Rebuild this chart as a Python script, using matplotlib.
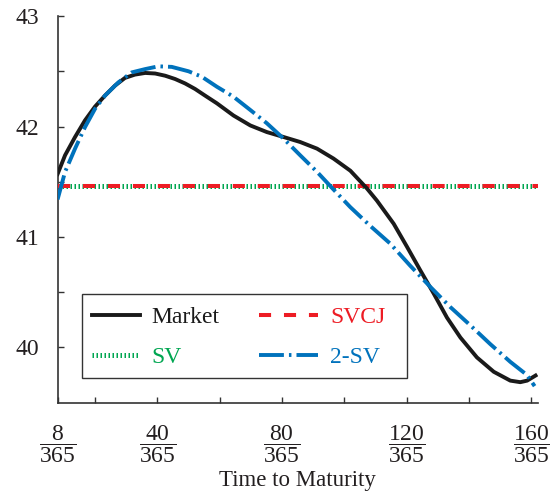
import numpy as np
import matplotlib
matplotlib.use("Agg")
import matplotlib.pyplot as plt
from matplotlib.patches import Rectangle
from matplotlib.ticker import FixedLocator, FixedFormatter

plt.rcParams["font.family"] = ["Liberation Serif", "DejaVu Serif"]
plt.rcParams["mathtext.fontset"] = "custom"
plt.rcParams["mathtext.rm"] = "Liberation Serif"
plt.rcParams["mathtext.it"] = "Liberation Serif"

# days to maturity and implied volatility curves (%)
market_days = [8, 10.4, 13.6, 16.8, 20, 23.2, 26.4, 29.6, 32.8, 36.1, 39.3, 42.5,
               45.7, 48.9, 52.1, 55.3, 59.1, 64.4, 69.8, 75.1, 80.5, 85.8, 91.2,
               96.5, 101.9, 107.2, 110.4, 115.8, 120.1, 124.3, 128.6, 132.9,
               137.2, 142.5, 147.9, 153.2, 156.4, 158.6, 161.3]
market_vol = [41.57, 41.74, 41.905, 42.056, 42.18, 42.28, 42.37, 42.44, 42.47,
              42.485, 42.48, 42.46, 42.43, 42.39, 42.34, 42.28, 42.21, 42.10,
              42.01, 41.95, 41.905, 41.86, 41.80, 41.71, 41.60, 41.44, 41.33,
              41.12, 40.91, 40.70, 40.49, 40.27, 40.09, 39.91, 39.78, 39.70,
              39.686, 39.70, 39.746]

twosv_days = [8, 10.4, 13.6, 16.8, 20, 23.2, 27.5, 31.8, 36.1, 40.3, 44.6, 50,
              54.3, 59.1, 64.4, 69.8, 75.1, 80.5, 85.8, 91.2, 96.5, 101.9, 108.3,
              114.7, 121.1, 127.5, 134, 140.4, 146.8, 153.2, 158.6, 161]
twosv_vol = [41.34, 41.59, 41.80, 41.995, 42.16, 42.28, 42.40, 42.49, 42.52,
             42.545, 42.54, 42.50, 42.45, 42.36, 42.27, 42.15, 42.03, 41.89,
             41.74, 41.59, 41.43, 41.27, 41.10, 40.94, 40.74, 40.55, 40.365,
             40.20, 40.03, 39.87, 39.75, 39.65]

flat_days = [8, 162]
svcj_vol = [41.46, 41.46]
sv_vol = [41.46, 41.46]

tick_days = [8, 40, 80, 120, 160]
minor_days = [20, 60, 100, 140]
tick_labels = [r"$\dfrac{%d}{365}$" % d for d in tick_days]

fig = plt.figure(figsize=(5.5, 4.97), dpi=100)
ax = fig.add_axes([0.1047, 0.1897, 0.873, 0.778])

sv_line, = ax.plot(flat_days, sv_vol, color="#00a651", lw=3.6,
                   linestyle=(0, (0.3, 0.5)), dash_capstyle="butt",
                   label="SV", zorder=2)
svcj_line, = ax.plot(flat_days, svcj_vol, color="#ed1c24", lw=2.9,
                     linestyle=(0, (3.0, 3.2)), dash_capstyle="butt",
                     label="SVCJ", zorder=3)
market_line, = ax.plot(market_days, market_vol, color="#1a1a1a", lw=2.8,
                       solid_joinstyle="round", label="Market", zorder=4)
twosv_line, = ax.plot(twosv_days, twosv_vol, color="#0072bc", lw=2.8,
                      linestyle=(0, (6.4, 1.3, 0.64, 1.3)),
                      dash_capstyle="butt", dash_joinstyle="round",
                      label="2-SV", zorder=5)

ax.set_xlim(8, 162)
ax.set_ylim(39.5, 43)

ax.xaxis.set_major_locator(FixedLocator(tick_days))
ax.xaxis.set_major_formatter(FixedFormatter(tick_labels))
ax.xaxis.set_minor_locator(FixedLocator(minor_days))
ax.yaxis.set_major_locator(FixedLocator([40, 41, 42, 43]))
ax.yaxis.set_minor_locator(FixedLocator([40.5, 41.5, 42.5]))

ax.tick_params(axis="both", which="both", direction="in", length=4,
               width=1, color="#333333")
ax.tick_params(axis="x", which="major", labelsize=17, pad=15,
               labelcolor="#231f20")
ax.tick_params(axis="y", which="major", labelsize=17, pad=13,
               labelcolor="#231f20")

for side in ["top", "right"]:
    ax.spines[side].set_visible(False)
for side in ["left", "bottom"]:
    ax.spines[side].set_linewidth(1.2)
    ax.spines[side].set_color("#333333")

ax.set_xlabel("Time to Maturity", fontsize=16.5, color="#231f20", labelpad=4)

# legend: one framed box, two columns with different handle lengths
box = Rectangle((0.051, 0.064), 0.677, 0.217, transform=ax.transAxes,
                facecolor="white", edgecolor="#333333", lw=1.0, zorder=6)
ax.add_patch(box)

leg_kw = dict(loc="center left", frameon=False, borderaxespad=0, borderpad=0,
              fontsize=17, labelcolor="linecolor", labelspacing=0.8,
              handletextpad=0.5)
leg_left = ax.legend([market_line, sv_line], ["Market", "SV"],
                     bbox_to_anchor=(0.0717, 0.1686), handlelength=2.03,
                     **leg_kw)
leg_left.set_zorder(7)
ax.add_artist(leg_left)
leg_right = ax.legend([svcj_line, twosv_line], ["SVCJ", "2-SV"],
                      bbox_to_anchor=(0.4196, 0.1686), handlelength=2.5,
                      **leg_kw)
leg_right.set_zorder(7)

fig.savefig("out.png", dpi=100)
